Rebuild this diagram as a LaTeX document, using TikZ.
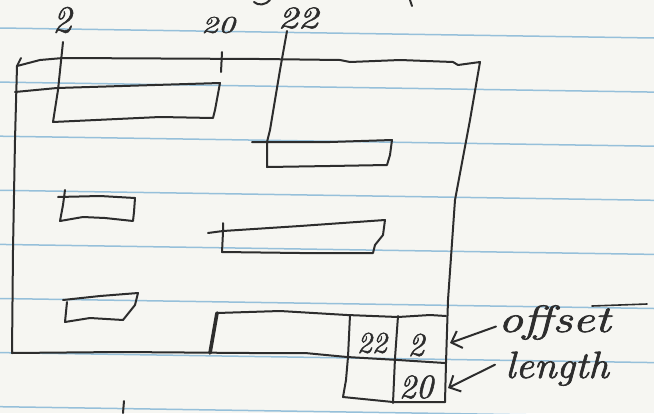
\documentclass[tikz,border=0pt]{standalone}
\usepackage{fontspec}
\usetikzlibrary{arrows.meta}
\definecolor{paper}{RGB}{246,246,242}
\definecolor{rule}{RGB}{150,192,218}
\definecolor{pen}{RGB}{45,45,45}
\newfontfamily\handfont{Latin Modern Roman}[FakeBold=1.6]
\begin{document}
\begin{tikzpicture}[x=1pt,y=-1pt,
  penline/.style={draw=pen,line width=2pt,line cap=round,line join=round},
  thickpen/.style={penline,line width=3.6pt},
  ruled/.style={draw=rule,line width=1.5pt},
  hand/.style={text=pen,inner sep=0pt,font=\handfont\itshape\fontsize{30}{32}\selectfont},
  pointer/.style={penline,-{Straight Barb[length=9pt,width=18pt]}}]
\useasboundingbox[fill=paper] (0,0) rectangle (654,413);
% ruled paper
\foreach \i in {0,...,7} \draw[ruled] (0,28+54.1*\i) -- (654,38+54.1*\i);
% fragments of writing above
\draw[penline] (254,2) .. controls (258,6) and (266,5) .. (270,0);
\draw[penline] (410,0) -- (412,6);
\draw[penline] (124,401) -- (123,413);
% main rectangle
\draw[penline] (21,58) -- (17,66) -- (15,140) -- (13,250) -- (12,353)
  -- (120,352) -- (250,353) -- (305,353) -- (347,357) -- (398,360) -- (445,363);
\draw[penline] (17,66) -- (40,60) -- (63,58) -- (260,59) -- (340,60) -- (350,62)
  -- (400,60) -- (453,62) -- (458,65) -- (480,62)
  -- (470,120) -- (455,200) -- (448,300) -- (446,363) -- (445,402);
% labels at the top
\node[hand,font=\handfont\itshape\fontsize{38}{40}\selectfont] (l2) at (62,20) {2};
\node[hand,font=\handfont\itshape\fontsize{24}{26}\selectfont] (l20) at (218,25) {\scalebox{1.4}[1]{20}};
\node[hand,font=\handfont\itshape\fontsize{31}{33}\selectfont] (l22) at (298,18) {\scalebox{1.3}[1]{22}};
% first record (offset 2 .. 20)
\draw[penline] (63,42) -- (58,90) -- (53,122) -- (160,117) -- (213,118)
  -- (215,110) -- (220,83) -- (57,88) -- (15,92);
\draw[penline] (222,52) -- (221,72);
% second record (offset 22)
\draw[penline] (287,31) -- (280,70) -- (270,130) -- (267,142) -- (267,167)
  -- (330,166) -- (387,165) -- (390,155) -- (392,140) -- (330,142) -- (252,142);
% small record A
\draw[penline] (65,190) -- (63,205) -- (60,221) -- (83,217) -- (105,218) -- (133,221)
  -- (134,212) -- (135,198) -- (100,196) -- (58,197);
% small record B
\draw[penline] (67,302) -- (65,322) -- (90,318) -- (123,320) -- (135,305) -- (138,293)
  -- (100,296) -- (63,300);
% record C
\draw[penline] (223,223) -- (223,232) -- (222,252) -- (300,253) -- (373,253)
  -- (375,245) -- (383,235) -- (385,220) -- (300,226) -- (223,231) -- (208,233);
% bottom record and table
\draw[thickpen] (217,313) -- (210,353);
\draw[penline] (217,313) -- (280,311) -- (347,315) -- (398,317) -- (430,315) -- (446,316);
\draw[penline] (350,315) -- (348,357) -- (346,380) -- (343,397) -- (393,402) -- (445,402);
\draw[penline] (398,316) -- (395,358) -- (393,403);
\node[hand] (c22) at (372,343) {22};
\node[hand,font=\handfont\itshape\fontsize{33}{35}\selectfont] (c2) at (416,345) {2};
\node[hand,font=\handfont\itshape\fontsize{34}{36}\selectfont] (c20) at (416,387) {20};
% annotations
\node[hand,font=\handfont\itshape\fontsize{38}{40}\selectfont,anchor=base west] (off) at (498,332) {\scalebox{1.3}[1]{offset}};
\node[hand,font=\handfont\itshape\fontsize{38}{40}\selectfont,anchor=base west] (len) at (505,378) {\scalebox{1.08}[1]{length}};
\draw[penline,line width=1.6pt] (592,306) -- (647,304);
\coordinate (tipO) at (450,343);
\coordinate (tipL) at (448,388);
\draw[pointer] ([xshift=-2pt,yshift=-4pt]off.west) -- (tipO);
\draw[pointer] ([xshift=-10pt,yshift=4pt]len.west) -- (tipL);
\end{tikzpicture}
\end{document}
